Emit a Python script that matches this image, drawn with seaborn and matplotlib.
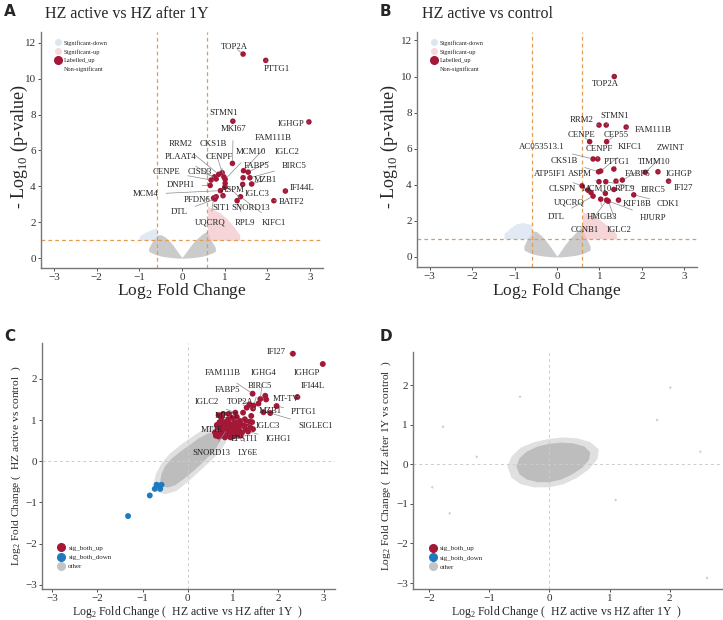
import matplotlib
matplotlib.use('Agg')
import matplotlib.pyplot as plt
import seaborn as sns
import pandas as pd
from matplotlib.lines import Line2D

sns.set_style('white')
plt.rcParams['font.family'] = ['Liberation Serif', 'DejaVu Serif']
plt.rcParams['mathtext.fontset'] = 'custom'
plt.rcParams['mathtext.rm'] = 'Liberation Serif'

RED = '#A31737'
BLUE = '#1C7BC0'
GREY = '#BEBEBE'
LINE = '#E69A50'

# ---------------- panel A: HZ active vs HZ after 1Y ----------------
a_genes = ['TOP2A', 'PTTG1', 'STMN1', 'IGHGP', 'MKI67', 'FAM111B', 'MCM10', 'IGLC2',
           'FABP5', 'BIRC5', 'MZB1', 'IFI44L', 'BATF2', 'IGLC3', 'KIFC1', 'RPL9',
           'SIT1', 'SNORD13', 'ASPM', 'MCM4', 'RRM2', 'CKS1B', 'CENPF', 'PLAAT4',
           'CISD3', 'CENPE', 'DNPH1', 'PFDN6', 'DTL', 'UQCRQ']
a_lfc = [1.43, 1.96, 1.19, 2.97, 1.18, 1.44, 1.01, 1.55,
         1.43, 1.59, 1.63, 2.42, 2.15, 1.42, 1.37, 1.29,
         0.96, 1.01, 1.00, 0.90, 0.86, 0.94, 0.98, 0.80,
         0.76, 0.68, 0.66, 0.80, 0.77, 0.74]
a_logp = [11.37, 11.02, 7.63, 7.59, 5.28, 4.87, 4.39, 4.79,
          4.48, 4.48, 4.13, 3.74, 3.20, 4.11, 3.42, 3.20,
          3.48, 4.17, 3.95, 3.76, 4.67, 4.76, 4.53, 4.41,
          4.53, 4.35, 4.05, 3.42, 3.29, 3.35]
a_label_pos = [(1.22, 11.76), (2.22, 10.56), (0.98, 8.06), (2.55, 7.46), (1.20, 7.19),
               (2.14, 6.69), (1.61, 5.89), (2.45, 5.89), (1.75, 5.15), (2.63, 5.15),
               (1.94, 4.35), (2.80, 3.93), (2.57, 3.15), (1.75, 3.56), (2.16, 1.98),
               (1.47, 1.98), (0.92, 2.78), (1.60, 2.78), (1.20, 3.78), (-0.85, 3.56),
               (-0.02, 6.37), (0.73, 6.37), (0.87, 5.65), (-0.03, 5.65), (0.41, 4.81),
               (-0.36, 4.81), (-0.03, 4.06), (0.36, 3.24), (-0.06, 2.56), (0.66, 1.98)]

# outline of the non-significant cloud and of the faint significant clouds
a_cloud_x = [-0.78, -0.68, -0.58, -0.48, -0.38, -0.28, -0.18, -0.08, 0.0,
             0.08, 0.18, 0.28, 0.38, 0.48, 0.58, 0.68, 0.78]
a_cloud_hi = [0.55, 1.0, 1.3, 1.3, 1.15, 0.92, 0.62, 0.28, 0.04,
              0.28, 0.62, 0.92, 1.15, 1.35, 1.5, 1.0, 0.6]
a_cloud_lo = [0.38, 0.26, 0.17, 0.11, 0.07, 0.04, 0.015, 0.0, 0.0,
              0.0, 0.015, 0.04, 0.07, 0.11, 0.17, 0.26, 0.38]
a_up_x = [0.6, 0.75, 0.9, 1.05, 1.2, 1.35]
a_up_hi = [2.9, 2.7, 2.5, 2.2, 1.8, 1.3]
a_down_x = [-1.0, -0.85, -0.7, -0.6]
a_down_hi = [1.25, 1.45, 1.6, 1.7]

# ---------------- panel B: HZ active vs control ----------------
b_genes = ['TOP2A', 'RRM2', 'STMN1', 'FAM111B', 'CENPE', 'CEP55', 'AC053513.1', 'CENPF',
           'CKS1B', 'KIFC1', 'PTTG1', 'ZWINT', 'TIMM10', 'IGHGP', 'IFI27', 'ASPM',
           'FABP5', 'BIRC5', 'ATP5IF1', 'CLSPN', 'MCM10', 'RPL9', 'CDK1', 'HMGB3',
           'CCNB1', 'IGLC2', 'KIF18B', 'HJURP', 'UQCRQ', 'DTL']
b_lfc = [1.35, 0.99, 1.16, 1.63, 0.77, 1.17, 0.85, 0.96,
         0.98, 1.03, 1.34, 2.08, 1.54, 2.38, 2.63, 0.99,
         1.39, 1.15, 0.59, 0.73, 1.14, 1.34, 1.81, 1.03,
         1.17, 1.21, 1.45, 1.19, 0.80, 0.85]
b_logp = [10.0, 7.31, 7.31, 7.20, 6.39, 6.39, 5.43, 5.43,
          4.72, 4.76, 4.87, 4.69, 4.26, 4.72, 4.20, 4.17,
          4.20, 4.17, 3.94, 3.70, 3.52, 3.74, 3.44, 3.20,
          3.15, 3.09, 3.15, 3.12, 3.57, 3.37]
b_label_pos = [(1.13, 9.59), (0.58, 7.59), (1.37, 7.81), (2.27, 7.04), (0.58, 6.76),
               (1.39, 6.76), (-0.35, 6.11), (0.99, 5.96), (0.16, 5.31), (1.72, 6.07),
               (1.42, 5.24), (2.68, 6.02), (2.30, 5.24), (2.89, 4.59), (2.98, 3.80),
               (0.55, 4.59), (1.89, 4.59), (2.27, 3.70), (-0.17, 4.59), (0.12, 3.74),
               (0.95, 3.74), (1.60, 3.74), (2.63, 2.96), (1.07, 2.22), (0.66, 1.48),
               (1.46, 1.48), (1.88, 2.96), (2.26, 2.17), (0.28, 3.00), (-0.02, 2.22)]

b_cloud_x = a_cloud_x
b_cloud_hi = [0.6, 1.1, 1.45, 1.4, 1.2, 0.95, 0.65, 0.3, 0.04,
              0.3, 0.65, 0.95, 1.2, 1.45, 1.7, 1.1, 0.6]
b_cloud_lo = a_cloud_lo
b_up_x = [0.6, 0.75, 0.9, 1.05, 1.2, 1.4]
b_up_hi = [2.5, 2.4, 2.2, 2.0, 1.7, 1.3]
b_down_x = [-1.25, -1.1, -0.95, -0.8, -0.6]
b_down_hi = [1.3, 1.6, 1.85, 1.9, 1.8]

# ---------------- panel C: LFC vs LFC ----------------
c_up_x = [2.32, 2.98, 2.42, 1.43, 1.60, 1.71, 1.73, 1.96, 1.36, 1.45, 1.56, 1.67, 1.82,
          1.30, 1.44, 1.22, 1.05, 0.90, 0.78, 0.68,
          0.62, 0.65, 0.66, 0.68, 0.70, 0.72, 0.73, 0.75, 0.76, 0.78, 0.80, 0.81, 0.83,
          0.85, 0.86, 0.88, 0.89, 0.90, 0.92, 0.93, 0.95, 0.97, 0.98, 1.00, 1.02, 1.04,
          1.06, 1.08, 1.10, 1.13, 1.15, 1.18, 1.20, 1.24, 1.26, 1.28, 1.30, 1.33, 1.36,
          1.38, 1.40, 0.64, 0.70, 0.74, 0.82, 0.94, 1.05, 1.12, 0.60, 0.68, 0.77, 0.87,
          0.99, 1.16, 1.44, 1.42]
c_up_y = [2.61, 2.36, 1.56, 1.64, 1.51, 1.59, 1.50, 1.34, 1.37, 1.35, 1.40, 1.19, 1.17,
          1.30, 1.28, 1.18, 1.18, 1.15, 1.15, 1.12,
          0.62, 0.68, 0.75, 0.60, 0.82, 0.66, 0.72, 0.90, 0.62, 0.78, 0.68, 0.95, 0.74,
          0.86, 0.62, 0.70, 1.02, 0.80, 0.92, 0.66, 0.76, 0.88, 1.05, 0.70, 0.82, 0.95,
          0.74, 1.08, 0.86, 0.78, 0.98, 0.90, 0.70, 0.85, 1.02, 0.78, 0.92, 0.72, 0.96,
          0.82, 1.10, 0.88, 0.95, 1.05, 0.58, 0.58, 0.62, 0.66, 0.70, 0.70, 0.70, 0.78,
          0.60, 0.62, 0.78, 0.95]
c_down_x = [-0.69, -0.63, -0.58, -0.73, -0.61, -0.84, -1.32]
c_down_y = [-0.57, -0.59, -0.57, -0.67, -0.67, -0.83, -1.33]
c_genes = ['IFI27', 'FAM111B', 'IGHG4', 'IGHGP', 'BIRC5', 'IFI44L', 'FABP5', 'MT-TV',
           'IGLC2', 'TOP2A', 'MZB1', 'PTTG1', 'MT-TL', 'IGLC3', 'SIGLEC1', 'MT1E',
           'EPSTI1', 'IGHG1', 'SNORD13', 'LY6E']
c_gene_x = [2.32, 1.43, 1.60, 2.98, 1.45, 2.42, 1.36, 1.73, 1.05, 1.30, 1.44, 1.96,
            0.78, 1.28, 1.82, 0.66, 1.16, 1.33, 0.87, 1.20]
c_gene_y = [2.61, 1.64, 1.51, 2.36, 1.35, 1.56, 1.37, 1.50, 1.18, 1.30, 1.28, 1.34,
            1.15, 0.92, 1.17, 0.75, 0.62, 0.72, 0.78, 0.70]
c_label_pos = [(1.96, 2.65), (0.76, 2.13), (1.67, 2.15), (2.63, 2.15), (1.59, 1.83),
               (2.76, 1.83), (0.87, 1.74), (2.16, 1.50), (0.42, 1.44), (1.15, 1.44),
               (1.81, 1.21), (2.56, 1.19), (0.87, 1.09), (1.76, 0.85), (2.81, 0.85),
               (0.53, 0.77), (1.24, 0.53), (2.00, 0.53), (0.52, 0.21), (1.33, 0.20)]
c_core_x = [-0.61, -0.58, -0.5, -0.36, -0.18, 0.02, 0.22, 0.42, 0.58, 0.7, 0.72, 0.64,
            0.5, 0.32, 0.12, -0.08, -0.28, -0.45, -0.56]
c_core_y = [-0.47, -0.3, -0.12, 0.06, 0.22, 0.38, 0.54, 0.66, 0.72, 0.66, 0.52, 0.34,
            0.16, -0.04, -0.24, -0.42, -0.58, -0.64, -0.6]
c_cloud_x = [-0.76, -0.7, -0.58, -0.4, -0.18, 0.05, 0.3, 0.55, 0.75, 0.86, 0.84, 0.7,
             0.5, 0.25, 0.0, -0.25, -0.5, -0.68]
c_cloud_y = [-0.55, -0.3, -0.05, 0.18, 0.38, 0.56, 0.74, 0.86, 0.86, 0.7, 0.45, 0.22,
             0.0, -0.25, -0.5, -0.72, -0.8, -0.74]

# ---------------- panel D ----------------
d_core_x = [-0.55, -0.5, -0.38, -0.2, 0.0, 0.2, 0.4, 0.58, 0.68, 0.66, 0.55, 0.38,
            0.2, 0.0, -0.2, -0.38, -0.5]
d_core_y = [-0.05, 0.15, 0.32, 0.45, 0.52, 0.55, 0.53, 0.45, 0.3, 0.12, -0.08, -0.25,
            -0.38, -0.45, -0.45, -0.38, -0.25]
d_cloud_x = [-0.7, -0.63, -0.48, -0.26, -0.02, 0.22, 0.46, 0.68, 0.82, 0.8, 0.66, 0.46,
             0.24, 0.0, -0.26, -0.48, -0.63]
d_cloud_y = [-0.06, 0.2, 0.42, 0.56, 0.64, 0.68, 0.66, 0.56, 0.38, 0.14, -0.12, -0.34,
             -0.5, -0.58, -0.58, -0.5, -0.34]
d_other_x = [2.01, 2.62, -1.66, -1.77, 1.79, 2.51, -1.21, -0.49, -1.95, 1.1]
d_other_y = [1.94, -2.87, -1.24, 0.95, 1.12, 0.32, 0.19, 1.71, -0.58, -0.9]

W, H = 723, 620
fig = plt.figure(figsize=(W / 100, H / 100), dpi=100)


def add_ax(left, top, right, bottom):
    return fig.add_axes([left / W, 1 - bottom / H, (right - left) / W, (bottom - top) / H])


def style(ax):
    sns.despine(ax=ax)
    for s in ['left', 'bottom']:
        ax.spines[s].set_color('#777777')
        ax.spines[s].set_linewidth(1.0)
    ax.tick_params(axis='both', labelsize=8, colors='#333333', length=2.5, width=0.6,
                   left=True, bottom=True, pad=1.2)
    ax.grid(False)


def ftext(x, y, s, **kw):
    fig.text(x / W, 1 - y / H, s, **kw)


def label_genes(ax, xs, ys, genes, pos, fs=6.3):
    for g, x, y, (lx, ly) in zip(genes, xs, ys, pos):
        ax.annotate(g, xy=(x, y), xytext=(lx, ly), textcoords='data', fontsize=fs,
                    ha='center', va='center', color='#222222',
                    arrowprops=dict(arrowstyle='-', color='#8a8a8a', lw=0.5,
                                    shrinkA=3, shrinkB=2))


def volcano(ax, cx, chi, clo, ux, uhi, dx, dhi, lfc, logp, genes, lpos):
    ax.fill_between(cx, clo, chi, color=GREY, alpha=0.8, lw=0)
    ax.fill_between(ux, [1.0] * len(ux), uhi, color='#F2C4C8', alpha=0.7, lw=0)
    ax.fill_between(dx, [1.0] * len(dx), dhi, color='#D3E1F0', alpha=0.7, lw=0)
    for v in (-0.585, 0.585):
        ax.axvline(v, color=LINE, ls=(0, (3, 2.5)), lw=0.9)
    ax.axhline(1.0, color=LINE, ls=(0, (3, 2.5)), lw=0.9)
    df = pd.DataFrame({'lfc': lfc, 'logp': logp})
    sns.scatterplot(data=df, x='lfc', y='logp', color=RED, s=16, edgecolor='none',
                    ax=ax, legend=False, zorder=3)
    label_genes(ax, lfc, logp, genes, lpos)
    ax.set_xlim(-3.3, 3.3)
    ax.set_ylim(-0.55, 12.6)
    ax.set_xticks([-3, -2, -1, 0, 1, 2, 3])
    ax.set_yticks([0, 2, 4, 6, 8, 10, 12])
    ax.set_xlabel('')
    ax.set_ylabel('')
    style(ax)
    handles = [Line2D([], [], ls='', marker='o', ms=4, color='#DCE6EE'),
               Line2D([], [], ls='', marker='o', ms=4, color='#F7D9DD'),
               Line2D([], [], ls='', marker='o', ms=5.5, color=RED),
               Line2D([], [], ls='', marker='o', ms=4, color='white')]
    ax.legend(handles, ['Significant-down', 'Significant-up', 'Labelled_up', 'Non-significant'],
              loc='upper left', bbox_to_anchor=(0.03, 0.985), frameon=False, fontsize=4.5,
              handletextpad=0.4, labelspacing=0.55, handlelength=1.2, borderpad=0.2)


axA = add_ax(41, 32, 323, 268)
volcano(axA, a_cloud_x, a_cloud_hi, a_cloud_lo, a_up_x, a_up_hi, a_down_x, a_down_hi,
        a_lfc, a_logp, a_genes, a_label_pos)
axB = add_ax(417, 32, 697, 267)
volcano(axB, b_cloud_x, b_cloud_hi, b_cloud_lo, b_up_x, b_up_hi, b_down_x, b_down_hi,
        b_lfc, b_logp, b_genes, b_label_pos)
axB.set_ylim(-0.56, 12.47)


def lfc_legend(ax):
    handles = [Line2D([], [], ls='', marker='o', ms=5.5, color=RED),
               Line2D([], [], ls='', marker='o', ms=5.5, color=BLUE),
               Line2D([], [], ls='', marker='o', ms=5.5, color='#C4C4C4')]
    ax.legend(handles, ['sig_both_up', 'sig_both_down', 'other'], loc='lower left',
              bbox_to_anchor=(0.035, 0.06), frameon=False, fontsize=5,
              handletextpad=0.4, labelspacing=0.5, handlelength=1.2, borderpad=0.2)


# panel C
axC = add_ax(42, 343, 335, 589)
axC.fill(c_cloud_x, c_cloud_y, color='#D9D9D9', lw=0, alpha=0.8)
axC.fill(c_core_x, c_core_y, color='#BDBDBD', lw=0)
axC.axvline(0, color='#CCCCCC', ls=(0, (3, 3)), lw=0.7)
axC.axhline(0, color='#CCCCCC', ls=(0, (3, 3)), lw=0.7)
c_df = pd.DataFrame({'x': c_up_x + c_down_x, 'y': c_up_y + c_down_y,
                     'group': ['sig_both_up'] * len(c_up_x) + ['sig_both_down'] * len(c_down_x)})
sns.scatterplot(data=c_df, x='x', y='y', hue='group',
                palette={'sig_both_up': RED, 'sig_both_down': BLUE},
                s=18, edgecolor='none', ax=axC, legend=False, zorder=3)
label_genes(axC, c_gene_x, c_gene_y, c_genes, c_label_pos, fs=6.2)
axC.set_xlim(-3.22, 3.25)
axC.set_ylim(-3.1, 2.87)
axC.set_xticks([-3, -2, -1, 0, 1, 2, 3])
axC.set_yticks([-3, -2, -1, 0, 1, 2])
axC.set_xlabel('')
axC.set_ylabel('')
style(axC)
lfc_legend(axC)

# panel D
axD = add_ax(413, 352, 722, 589)
axD.fill(d_cloud_x, d_cloud_y, color='#D9D9D9', lw=0, alpha=0.8)
axD.fill(d_core_x, d_core_y, color='#BDBDBD', lw=0)
axD.axvline(0, color='#CCCCCC', ls=(0, (3, 3)), lw=0.7)
axD.axhline(0, color='#CCCCCC', ls=(0, (3, 3)), lw=0.7)
d_df = pd.DataFrame({'x': d_other_x, 'y': d_other_y})
sns.scatterplot(data=d_df, x='x', y='y', color='#D0D0D0', s=3, edgecolor='none',
                ax=axD, legend=False)
axD.set_xlim(-2.27, 2.87)
axD.set_ylim(-3.15, 2.84)
axD.set_xticks([-2, -1, 0, 1, 2])
axD.set_yticks([-3, -2, -1, 0, 1, 2])
axD.set_xlabel('')
axD.set_ylabel('')
style(axD)
lfc_legend(axD)

# text: panel letters, titles, axis labels
for (x, y, s) in [(4, 12, 'A'), (380, 12, 'B'), (4, 336, 'C'), (380, 336, 'D')]:
    ftext(x, y, s, family='DejaVu Sans', fontweight='bold', fontsize=11, ha='left', va='center')
ftext(45, 14, 'HZ active vs HZ after 1Y', fontsize=11.5, ha='left', va='center')
ftext(422, 14, 'HZ active vs control', fontsize=11.5, ha='left', va='center')

xl = r'Log$_\mathrm{2}$ Fold Change'
yl = r'- Log$_\mathrm{10}$ (p-value)'
ftext(182, 291, xl, fontsize=12.5, ha='center', va='center')
ftext(557, 291, xl, fontsize=12.5, ha='center', va='center')
ftext(19, 147, yl, fontsize=13, ha='center', va='center', rotation=90)
ftext(389, 147, yl, fontsize=13, ha='center', va='center', rotation=90)

ftext(188, 612, xl + r' (  HZ active vs HZ after 1Y  )', fontsize=8.5, ha='center', va='center')
ftext(567, 612, xl + r' (  HZ active vs HZ after 1Y  )', fontsize=8.5, ha='center', va='center')
ftext(16, 466, xl + r' (  HZ active vs control  )', fontsize=8.2, ha='center', va='center', rotation=90)
ftext(386, 466, xl + r' (  HZ after 1Y vs control  )', fontsize=8.2, ha='center', va='center', rotation=90)

fig.savefig('out.png', dpi=100)
